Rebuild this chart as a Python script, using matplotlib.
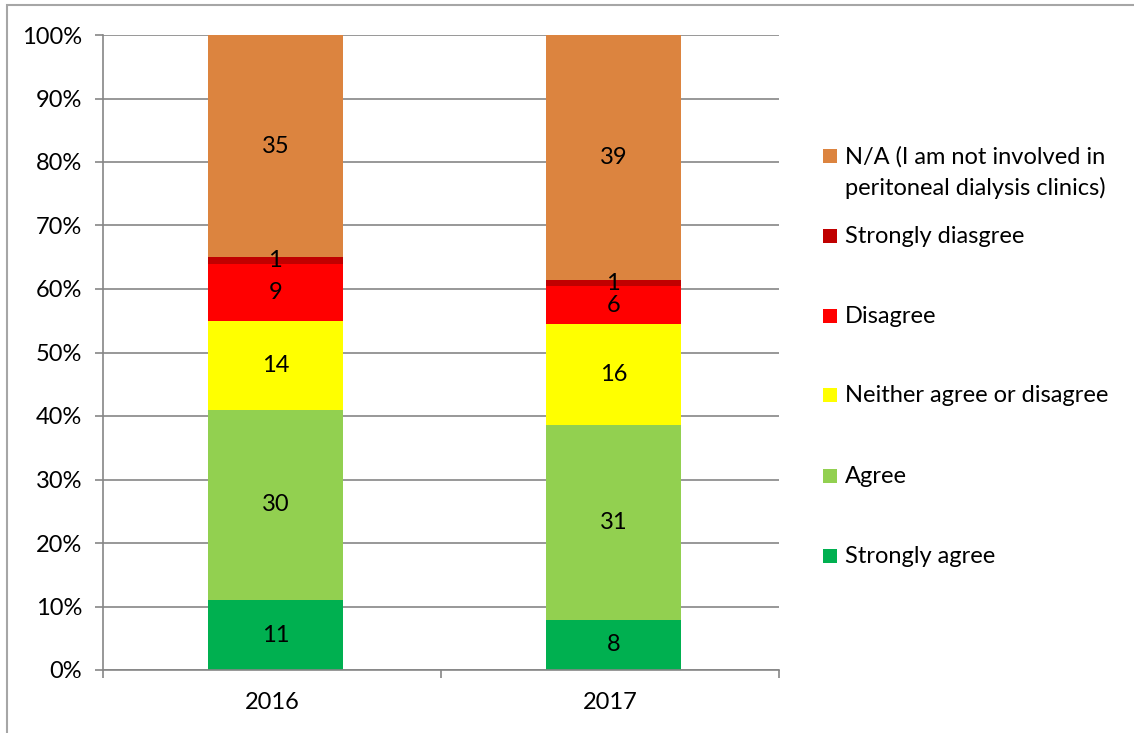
import numpy as np
import matplotlib
matplotlib.use("Agg")
import matplotlib.pyplot as plt
from matplotlib.patches import Rectangle

plt.rcParams['font.family'] = ['Lato', 'DejaVu Sans']

# datos de la encuesta (conteos por respuesta)
anios = ['2016', '2017']
categorias = ['Strongly agree', 'Agree', 'Neither agree or disagree', 'Disagree',
              'Strongly diasgree', 'N/A (I am not involved in\nperitoneal dialysis clinics)']
strongly_agree = [11, 8]
agree = [30, 31]
neither = [14, 16]
disagree = [9, 6]
strongly_disagree = [1, 1]
no_aplica = [35, 39]

colores = ['#00B050', '#92D050', '#FFFF00', '#FF0000', '#C00000', '#DC843F']
series = [strongly_agree, agree, neither, disagree, strongly_disagree, no_aplica]

W, H = 1134, 733
fig = plt.figure(figsize=(W / 100, H / 100), dpi=100)
ax = fig.add_axes([103 / W, 1 - 670 / H, (779 - 103) / W, (670 - 35) / H])

totales = np.sum(np.array(series), axis=0)
x = np.arange(len(anios))
base = np.zeros(len(anios))
gris = '#868686'
fs = 17

ax.set_axisbelow(True)
for valores, color in zip(series, colores):
    pct = np.array(valores) / totales
    barras = ax.bar(x + 0.01, pct, 0.4, bottom=base, color=color, linewidth=0)
    ax.bar_label(barras, labels=[str(v) for v in valores], label_type='center',
                 fontsize=fs, color='black')
    base = base + pct

# ejes
ax.set_xlim(-0.5, 1.5)
ax.set_ylim(0, 1)
ax.set_yticks(np.arange(0, 1.01, 0.1))
ax.set_yticklabels([f'{int(round(t * 100))}%' for t in np.arange(0, 1.01, 0.1)], fontsize=fs)
ax.yaxis.grid(True, color=gris, linewidth=1.2)
ax.set_xticks(x)
ax.set_xticklabels(anios, fontsize=fs)
ax.set_xticks([-0.5, 0.5, 1.5], minor=True)
ax.tick_params(axis='x', which='major', length=0, pad=16)
ax.tick_params(axis='x', which='minor', length=6, color=gris, width=1.2)
ax.tick_params(axis='y', length=6, color=gris, width=1.2, pad=9)
for lado in ['top', 'right']:
    ax.spines[lado].set_visible(False)
for lado in ['left', 'bottom']:
    ax.spines[lado].set_color(gris)
    ax.spines[lado].set_linewidth(1.2)

# leyenda manual (estilo Excel)
ys_leyenda = [556, 476, 395, 316, 236, 156]
for cat, color, yp in zip(categorias, colores, ys_leyenda):
    fig.patches.append(Rectangle((823 / W, 1 - (yp + 7) / H), 14 / W, 14 / H,
                                 transform=fig.transFigure, facecolor=color,
                                 edgecolor='none'))
    fig.text(845 / W, 1 - (yp - 10) / H, cat, fontsize=fs, va='top', ha='left',
             linespacing=1.5)

# borde del grafico
fig.patches.append(Rectangle((7 / W, -0.1), 1.2, 1 - 5 / H + 0.1,
                             transform=fig.transFigure, facecolor='none',
                             edgecolor='#A6A6A6', linewidth=1.5))

fig.savefig('out.png', dpi=100)
